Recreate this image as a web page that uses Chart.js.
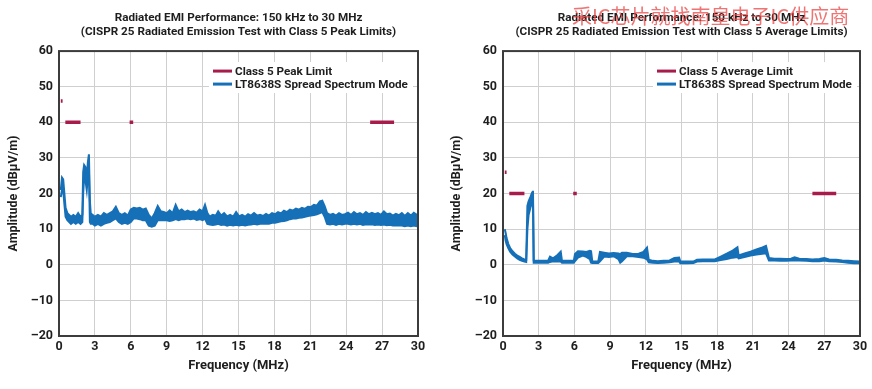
<!DOCTYPE html>
<html><head><meta charset="utf-8">
<script src="https://cdn.jsdelivr.net/npm/chart.js@4/dist/chart.umd.min.js"></script>
<style>
html,body{margin:0;padding:0;background:#fff;width:872px;height:389px;overflow:hidden}
#wrapL{position:absolute;left:0;top:0;width:436px;height:389px}
#wrapR{position:absolute;left:436px;top:0;width:436px;height:389px}
#wm{position:absolute;left:572px;top:2px;font-family:"Noto Sans CJK SC";font-size:20px;line-height:28px;color:rgba(235,70,70,0.75);white-space:nowrap;pointer-events:none}
</style></head><body>
<div id="wrapL"><canvas id="cL" width="436" height="389"></canvas></div>
<div id="wrapR"><canvas id="cR" width="436" height="389"></canvas></div>
<div id="wm">采IC芯片就找南皇电子IC供应商</div>
<script>
// ---- tick labels ----
const xTickVals = [0,3,6,9,12,15,18,21,24,27,30];
const xTickLabels = ['0','3','6','9','12','15','18','21','24','27','30'];
const yTickVals = [-20,-10,0,10,20,30,40,50,60];
const yTickLabels = ['\u201320','\u201310','0','10','20','30','40','50','60'];

// ---- limit lines (nulls break the segments) ----
const limitFreq = [0.15,0.3,0.4,0.53,1.8,3.0,5.9,6.2,15,26,28];
const peakLimit = [46,46,null,40,40,null,40,40,null,40,40];
const avgLimit  = [26,26,null,20,20,null,20,20,null,20,20];

// ---- peak chart trace (upper / lower edge of the noisy band) ----
const peakFreq = [0.15,0.25,0.35,0.45,0.55,0.7,0.85,1.0,1.2,1.4,1.6,1.8,1.95,2.02,2.1,2.2,2.32,2.42,2.5,2.58,2.65,2.8,3.0,3.25,3.5,3.75,4.0,4.25,4.5,4.75,5.0,5.25,5.5,5.75,6.0,6.25,6.5,6.75,7.0,7.25,7.5,7.75,8.0,8.25,8.5,8.75,9.0,9.25,9.5,9.75,10.0,10.25,10.5,10.75,11.0,11.25,11.5,11.75,12.0,12.2,12.4,12.6,12.85,13.1,13.3,13.55,13.8,14.05,14.3,14.55,14.8,15.05,15.3,15.55,15.8,16.05,16.3,16.55,16.8,17.05,17.3,17.55,17.8,18.05,18.3,18.55,18.8,19.05,19.3,19.55,19.8,20.05,20.3,20.55,20.8,21.05,21.3,21.55,21.8,22.0,22.2,22.4,22.65,22.9,23.15,23.4,23.65,23.9,24.15,24.4,24.65,24.9,25.15,25.4,25.65,25.9,26.15,26.4,26.65,26.9,27.15,27.4,27.65,27.9,28.15,28.4,28.65,28.9,29.15,29.4,29.65,29.9,30];
const peakUpper = [21,24.5,24,20,16,14.5,14,13.5,14,13.5,14.5,13.5,14,26,28,27.5,24.8,29,31,18,14.5,14,13.5,14,13.5,14.5,14,14.5,15,16.3,14.5,14,14.5,13.8,15.5,16,15.8,16,15.5,15.8,14,13,14.5,16.5,15,14.8,14.5,15.3,14.5,16.8,15,15.5,14.8,15.2,14.8,15,14.6,15.5,15,16.8,14.5,13.5,14,13.8,15,13.8,14.5,13.6,14,13.5,14.8,13.6,14,13.5,14.2,13.8,14.5,13.8,14,13.7,14.3,13.8,14.5,14.2,14.8,14.4,15.2,14.8,15.5,15.2,15.8,15.5,16,15.7,16.3,16.2,16.8,16.6,17.8,18,16.5,14.5,14,14.3,13.8,14.5,14,14.2,14.6,14,14.8,14.2,14.5,14,14.8,14.2,14.6,14.2,14.5,14,15,14.2,14.4,13.8,14.3,13.9,14.5,13.7,14.5,13.8,14.6,14,14.2];
const peakLower = [19,21,21,17,13.5,12.5,12,11.5,12,11.5,12,11.5,12,20,24.5,24,21,25,27,12,11.5,11.5,11,11.5,11,11.5,11.8,12,12.5,13,12,11.5,11.8,11.5,12,13,13,12.8,12.5,12.5,11,10.7,11,12.5,12.5,12.5,12.5,12.3,12.5,12.8,12.5,12.8,12.8,13,12.8,13,12.6,12.8,12.5,13,11.5,11.3,11.2,11.3,11.5,11.2,11.3,11,11.2,11,11.2,11,11.2,11,11.2,11.3,11.5,11.3,11.5,11.5,11.6,11.5,11.8,11.8,12,12.2,12.3,12.5,12.8,13,13,13.2,13.3,13.5,13.7,13.8,14,14.2,14.5,14.8,13.5,11.5,11.3,11.5,11.2,11.5,11.3,11.5,11.5,11.3,11.5,11.3,11.5,11.2,11.4,11.3,11.4,11.2,11.3,11.2,11.3,11.1,11.2,11,11.1,11,11,10.8,11,10.8,11,10.8,11];

// ---- average chart trace ----
const avgFreq = [0.15,0.22,0.3,0.45,0.6,0.8,1.0,1.2,1.4,1.6,1.8,1.95,2.05,2.15,2.3,2.45,2.52,2.58,3.0,3.5,3.8,3.95,4.2,4.5,4.85,4.95,5.5,5.95,6.05,6.3,6.7,7.0,7.3,7.4,7.5,8.0,8.15,8.5,8.9,9.3,9.7,9.85,10.0,10.4,10.9,11.4,11.8,12.1,12.25,12.6,13.0,13.5,14.0,14.4,14.8,14.9,15.5,16.0,16.3,16.8,17.3,17.8,18.3,18.8,19.3,19.7,19.8,20.3,20.8,21.3,21.8,22.1,22.35,22.8,23.3,23.8,24.2,24.5,24.9,25.5,26.0,26.6,27.0,27.4,28.0,28.5,29.0,29.5,30.0];
const avgUpper = [10,9,7.5,5.8,4.7,3.8,3.1,2.6,2.2,1.8,1.5,1.4,16.5,17.8,19,20.3,20.8,1.2,1.1,1.1,1.2,2.3,1.8,2.5,3.7,1.2,1.1,1.1,3.0,3.8,3.7,3.6,3.9,3.8,1.0,0.9,3.6,3.4,3.2,3.3,3.2,3.0,3.4,3.4,3.0,3.1,3.6,4.8,1.4,1.1,1.0,1.1,1.2,1.9,2.0,0.9,0.9,0.9,1.4,1.5,1.5,1.5,2.3,3.1,4.0,4.9,2.6,3.2,3.7,4.3,4.9,5.3,1.9,1.7,1.7,1.6,1.7,2.1,1.7,1.6,1.5,1.6,1.9,1.5,1.4,1.2,1.1,1.0,0.9];
const avgLower = [8.3,6.8,5.8,4.6,3.7,2.9,2.3,1.8,1.4,1.1,0.9,0.8,10,14,16,17.5,18,0.6,0.6,0.6,0.6,0.8,1.0,0.9,0.9,0.6,0.6,0.6,1.0,2.0,2.6,2.2,1.6,0.6,0.5,0.5,1.0,2.3,2.2,2.4,1.6,0.6,1.0,2.4,2.4,2.2,2.0,1.5,0.7,0.6,0.5,0.6,0.7,0.9,0.9,0.4,0.4,0.5,0.9,1.0,1.0,1.0,1.3,1.6,2.0,2.2,1.8,2.2,2.6,2.9,3.1,3.2,1.2,1.2,1.1,1.1,1.2,1.3,1.2,1.1,1.0,1.0,1.2,1.0,0.9,0.8,0.6,0.4,0.4];

const FONT = 'Roboto';
const LIMIT_COLOR = '#a81c4c';
const TRACE_COLOR = '#1570b8';
const GRID = '#cfcfcf';
const TEXT = '#1e1e1e';
Chart.defaults.font.family = FONT;
Chart.defaults.color = TEXT;

const framePlugin = {
  id:'frame',
  afterDraw(chart){
    const {ctx, chartArea:a} = chart;
    ctx.save();
    ctx.strokeStyle = '#3c3c3c';
    ctx.lineWidth = 2;
    ctx.strokeRect(a.left, a.top, a.right-a.left, a.bottom-a.top);
    ctx.restore();
  }
};
const legendPlugin = {
  id:'boxLegend',
  afterDatasetsDraw(chart){
    const {ctx, chartArea:a} = chart;
    const items = chart.data.datasets.filter(d=>d.label);
    ctx.save();
    ctx.fillStyle = '#fff';
    ctx.fillRect(a.left+150, a.top+11, 204, 31);
    ctx.font = 'bold 11.7px ' + FONT;
    ctx.textBaseline = 'middle';
    items.forEach((d,i)=>{
      const y = a.top + 20 + i*13;
      ctx.strokeStyle = d.borderColor; ctx.lineWidth = 3;
      ctx.beginPath(); ctx.moveTo(a.left+154, y); ctx.lineTo(a.left+173, y); ctx.stroke();
      ctx.fillStyle = TEXT; ctx.fillText(d.label, a.left+176, y+0.5);
    });
    ctx.restore();
  }
};

function makeChart(id, c){
  return new Chart(document.getElementById(id), {
    type:'line',
    data:{datasets:[
      {label:c.limitLabel, data:limitFreq.map((f,i)=>({x:f,y:c.limit[i]})), borderColor:LIMIT_COLOR, borderWidth:3.5, spanGaps:false, pointRadius:0, fill:false, borderCapStyle:'butt'},
      {label:'LT8638S Spread Spectrum Mode', data:c.freq.map((f,i)=>({x:f,y:c.upper[i]})), borderColor:TRACE_COLOR, backgroundColor:TRACE_COLOR, borderWidth:2, pointRadius:0, fill:'+1'},
      {label:'', data:c.freq.map((f,i)=>({x:f,y:c.lower[i]})), borderColor:TRACE_COLOR, borderWidth:2, pointRadius:0, fill:false}
    ]},
    options:{
      responsive:false, animation:false, devicePixelRatio:1,
      layout:{padding:{left:0,right:c.padRight,top:0,bottom:0}},
      plugins:{
        legend:{display:false}, tooltip:{enabled:false},
        title:{display:true, text:c.title, fullSize:false, color:TEXT,
          font:{family:FONT,size:11.7,weight:'bold',lineHeight:1.2}, padding:{top:11,bottom:12}}
      },
      scales:{
        x:{type:'linear', min:0, max:30,
          afterFit(s){ s.height = 53; },
          afterBuildTicks(s){ s.ticks = xTickVals.map(v=>({value:v})); },
          ticks:{autoSkip:false, maxRotation:0, padding:3, color:TEXT,
            font:{family:FONT,size:12.5,weight:'bold'},
            callback:(v)=>xTickLabels[xTickVals.indexOf(v)]},
          grid:{color:GRID, drawTicks:false, lineWidth:1},
          border:{display:false},
          title:{display:true, text:'Frequency (MHz)', color:TEXT,
            font:{family:FONT,size:13,weight:'bold'}, padding:{top:0,bottom:15}}
        },
        y:{min:-20, max:60,
          afterFit(s){ s.width = c.yWidth; },
          afterBuildTicks(s){ s.ticks = yTickVals.map(v=>({value:v})); },
          ticks:{padding:6, color:TEXT, font:{family:FONT,size:12.5,weight:'bold'},
            callback:(v)=>yTickLabels[yTickVals.indexOf(v)]},
          grid:{color:GRID, drawTicks:false, lineWidth:1},
          border:{display:false},
          title:{display:true, text:'Amplitude (dB\u00b5V/m)', color:TEXT,
            font:{family:FONT,size:12.5,weight:'bold'}, padding:{top:c.yTitlePad,bottom:0}}
        }
      }
    },
    plugins:[legendPlugin, framePlugin]
  });
}

makeChart('cL', {
  title:['Radiated EMI Performance: 150 kHz to 30 MHz','(CISPR 25 Radiated Emission Test with Class 5 Peak Limits)'],
  limitLabel:'Class 5 Peak Limit', limit:peakLimit,
  freq:peakFreq, upper:peakUpper, lower:peakLower,
  yWidth:59, padRight:18, yTitlePad:6
});
makeChart('cR', {
  title:['Radiated EMI Performance: 150 kHz to 30 MHz','(CISPR 25 Radiated Emission Test with Class 5 Average Limits)'],
  limitLabel:'Class 5 Average Limit', limit:avgLimit,
  freq:avgFreq, upper:avgUpper, lower:avgLower,
  yWidth:67, padRight:12, yTitlePad:13
});
</script>
</body></html>
